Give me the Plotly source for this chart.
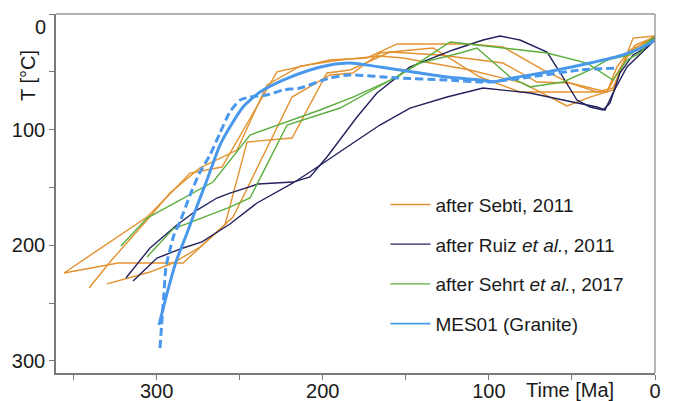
import plotly.graph_objects as go

# ---------------- data (time in Ma, temperature in °C) ----------------
sebti_1_time = [355.8, 320.3, 305.8, 290.8, 279.9, 260.7, 227.6, 195.7, 173.4, 155.3, 111.4, 91.5, 67.4, 51.2, 34.9, 25.3, 16.9, 9.0, 0.0]
sebti_1_temp = [223.9, 189.3, 175.5, 153.9, 137.5, 132.3, 50.1, 39.8, 38.0, 25.9, 25.9, 28.5, 48.4, 59.7, 67.4, 64.0, 35.4, 26.8, 19.0]
sebti_2_time = [355.8, 323.3, 284.1, 267.9, 254.0, 218.5, 195.7, 181.8, 165.6, 133.6, 105.4, 81.3, 51.2, 28.9, 21.1, 12.0, 0.0]
sebti_2_temp = [223.9, 215.3, 215.3, 193.7, 175.5, 71.8, 52.7, 51.0, 33.7, 29.4, 54.5, 67.4, 67.4, 67.4, 46.7, 26.8, 19.9]
sebti_3_time = [340.7, 328.1, 305.8, 292.0, 273.9, 251.6, 233.6, 213.7, 189.6, 165.6, 151.7, 111.4, 79.5, 53.0, 39.1, 25.3, 13.2, 0.0]
sebti_3_temp = [236.9, 214.4, 178.1, 154.8, 133.1, 117.6, 61.4, 45.0, 39.8, 36.3, 38.0, 48.4, 59.7, 79.5, 71.8, 65.7, 20.8, 19.0]
sebti_4_time = [329.9, 304.0, 290.2, 273.9, 258.9, 245.6, 218.5, 197.5, 183.6, 159.5, 129.4, 91.5, 71.0, 51.2, 28.9, 22.9, 15.1, 0.0]
sebti_4_temp = [233.4, 223.1, 215.3, 201.5, 182.4, 110.7, 107.2, 51.0, 48.4, 32.9, 35.4, 42.4, 58.8, 59.7, 67.4, 45.8, 31.1, 20.8]

ruiz_1_time = [318.5, 304.0, 287.8, 275.7, 263.7, 255.9, 239.0, 217.9, 207.7, 197.5, 179.4, 167.4, 147.5, 121.6, 103.5, 93.3, 81.3, 65.0, 55.4, 47.0, 39.1, 31.3, 27.1, 21.1, 13.2, 4.8, 0.0]
ruiz_1_temp = [228.3, 202.3, 182.4, 169.5, 159.1, 154.8, 147.0, 145.3, 140.9, 123.6, 89.1, 68.3, 45.8, 31.1, 22.5, 19.0, 22.5, 32.9, 54.5, 74.4, 80.4, 83.0, 77.0, 51.0, 35.4, 28.5, 20.8]
ruiz_2_time = [314.2, 299.8, 284.1, 272.7, 255.9, 239.6, 217.9, 205.9, 181.8, 165.6, 147.5, 125.2, 103.5, 75.3, 55.4, 34.9, 30.1, 25.3, 16.9, 7.2, 0.0]
ruiz_2_temp = [230.8, 211.0, 202.3, 197.1, 181.6, 163.4, 146.1, 134.9, 111.5, 96.0, 81.3, 71.8, 64.0, 68.3, 74.4, 80.4, 83.0, 68.3, 45.8, 32.9, 22.5]

sehrt_1_time = [321.5, 305.8, 266.1, 243.8, 201.7, 181.8, 155.3, 123.4, 107.2, 65.0, 40.9, 25.3, 16.9, 9.0, 0.0]
sehrt_1_temp = [200.6, 176.4, 145.3, 104.6, 83.0, 71.8, 54.5, 24.2, 26.8, 33.7, 42.4, 57.1, 39.8, 33.7, 19.0]
sehrt_2_time = [305.8, 290.2, 255.9, 243.8, 221.5, 189.6, 161.3, 141.5, 117.4, 107.2, 87.3, 75.3, 55.4, 39.1, 28.9, 15.1, 1.2]
sehrt_2_temp = [210.1, 185.9, 166.9, 159.1, 96.0, 81.3, 58.8, 42.4, 33.7, 29.4, 54.5, 63.1, 58.8, 48.4, 39.8, 35.4, 20.8]

mes_time = [298.6, 293.2, 288.4, 281.7, 275.7, 269.7, 261.9, 255.9, 248.0, 237.8, 223.9, 207.7, 195.7, 183.6, 165.6, 145.7, 125.2, 105.4, 97.5, 89.1, 65.0, 39.1, 19.3, 4.8, 0.0]
mes_temp = [268.9, 238.6, 214.4, 189.3, 166.0, 143.5, 113.3, 97.7, 80.4, 67.4, 57.1, 48.4, 44.1, 42.4, 45.8, 50.1, 54.5, 57.1, 58.8, 56.2, 50.1, 42.4, 35.4, 26.8, 22.5]
mes_dash_time = [298.0, 296.8, 295.6, 294.4, 292.0, 289.6, 286.0, 279.9, 273.9, 267.9, 261.9, 255.9, 249.8, 243.8, 233.6, 223.9, 213.7, 195.7, 183.6, 155.3, 125.2, 101.1, 75.3, 45.2, 22.9]
mes_dash_temp = [288.8, 264.6, 241.2, 218.7, 204.0, 191.1, 179.8, 156.5, 136.6, 121.9, 102.9, 84.7, 74.4, 71.8, 70.0, 65.7, 64.0, 55.3, 52.7, 55.3, 57.1, 58.8, 54.5, 48.4, 46.7]

x_tick_vals = [0, 50, 100, 150, 200, 250, 300, 350]
x_tick_text = ["0", "", "100", "", "200", "", "300", ""]
y_tick_vals = [0, 50, 100, 150, 200, 250, 300]
y_tick_text = ["", "", "100", "", "200", "", "300"]   # the top "0" is set just below its tick
y_top_label = "0"

ORANGE = "#E3922F"
NAVY = "#23225E"
GREEN = "#5BAE3C"
BLUE = "#4A98EC"
FONT = "Liberation Sans, Arial, Helvetica, sans-serif"

fig = go.Figure()

groups = [
    ("after Sebti, 2011", ORANGE, [(sebti_1_time, sebti_1_temp), (sebti_2_time, sebti_2_temp),
                                   (sebti_3_time, sebti_3_temp), (sebti_4_time, sebti_4_temp)], 1),
    ("after Ruiz <i>et al.</i>, 2011", NAVY, [(ruiz_1_time, ruiz_1_temp), (ruiz_2_time, ruiz_2_temp)], 2),
    ("after Sehrt <i>et al.</i>, 2017", GREEN, [(sehrt_1_time, sehrt_1_temp), (sehrt_2_time, sehrt_2_temp)], 3),
]
for name, color, curves, rank in groups:
    for i, (t, T) in enumerate(curves):
        fig.add_trace(go.Scatter(
            x=t, y=T, mode="lines", name=name, legendgroup=name, legendrank=rank,
            showlegend=(i == 0), line=dict(color=color, width=1.4),
        ))

fig.add_trace(go.Scatter(
    x=mes_dash_time, y=mes_dash_temp, mode="lines", name="MES01 (Granite)",
    legendgroup="mes", showlegend=False, legendrank=4,
    line=dict(color=BLUE, width=3, dash="8px,4px", shape="spline", smoothing=0.6),
))
fig.add_trace(go.Scatter(
    x=mes_time, y=mes_temp, mode="lines", name="MES01 (Granite)",
    legendgroup="mes", showlegend=False, legendrank=4,
    line=dict(color=BLUE, width=3, shape="spline", smoothing=0.6),
))
# legend entry for MES01 (thin sample line, like the reference key)
fig.add_trace(go.Scatter(
    x=[None], y=[None], mode="lines", name="MES01 (Granite)",
    legendgroup="mes", showlegend=True, legendrank=4,
    line=dict(color=BLUE, width=1.8),
))

axis_common = dict(
    showgrid=False, zeroline=False, showline=True, linecolor="#7a7a7a", linewidth=1.6,
    ticks="outside", ticklen=5, tickcolor="#7a7a7a", tickwidth=1.2, automargin=False,
    ticklabeloverflow="allow",
    tickfont=dict(family=FONT, size=20, color="#1a1a1a"),
)

# the page body adds an 8 px offset, so the figure is sized to fit the window
fig.update_layout(
    width=670, height=393,
    margin=dict(l=48, r=23, t=6, b=28),
    paper_bgcolor="white", plot_bgcolor="white",
    font=dict(family=FONT, color="#1a1a1a"),
    xaxis=dict(range=[360.6, 0], tickvals=x_tick_vals, ticktext=x_tick_text,
               ticklabelstandoff=-6, **axis_common),
    yaxis=dict(range=[310.4, 0], tickvals=y_tick_vals, ticktext=y_tick_text, **axis_common),
    legend=dict(
        x=0.55, y=0.522, xanchor="left", yanchor="top",
        font=dict(family=FONT, size=19, color="#1a1a1a"),
        bgcolor="rgba(0,0,0,0)", tracegroupgap=12, itemwidth=40,
        traceorder="grouped",
    ),
    shapes=[
        dict(type="line", xref="paper", yref="paper", x0=0, x1=1, y0=1, y1=1,
             line=dict(color="#999999", width=1.4)),
        dict(type="line", xref="paper", yref="paper", x0=1, x1=1, y0=0, y1=1,
             line=dict(color="#999999", width=1.4)),
    ],
    annotations=[
        dict(text=y_top_label, xref="paper", yref="paper", x=-0.013, y=1.0,
             xanchor="right", yanchor="top", showarrow=False,
             font=dict(family=FONT, size=20, color="#1a1a1a")),
        dict(text="T [°C]", xref="paper", yref="paper", x=-0.047, y=0.83,
             xanchor="center", yanchor="middle", textangle=-90, showarrow=False,
             font=dict(family=FONT, size=20, color="#1a1a1a")),
        dict(text="Time [Ma]", xref="paper", yref="paper", x=0.858, y=-0.047,
             xanchor="center", yanchor="middle", showarrow=False,
             font=dict(family=FONT, size=20, color="#1a1a1a")),
    ],
)

fig.write_html("out.html")
